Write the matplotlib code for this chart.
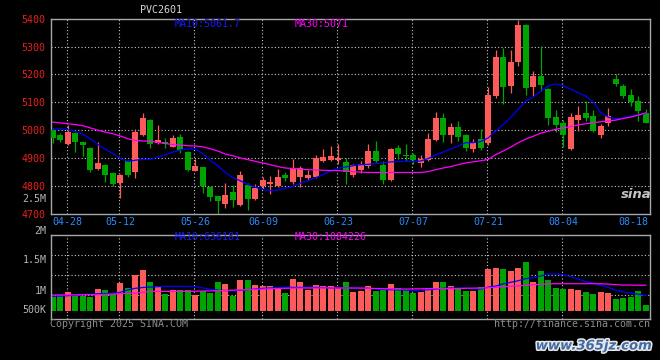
import matplotlib
matplotlib.use('Agg')
import matplotlib.pyplot as plt
import matplotlib.patheffects as pe
import numpy as np

# PVC2601 daily candles, 2025-04-24 .. 2025-08-19
opens = [5002, 4981, 4949, 4990, 4956, 4935, 4860, 4874, 4845, 4810,
         4888, 4848, 4982, 5038, 4954, 4957, 4941, 4974, 4921, 4854,
         4866, 4795, 4762, 4736, 4777, 4731, 4802, 4751, 4800, 4806,
         4798, 4838, 4814, 4833, 4828, 4830, 4889, 4892, 4893, 4886,
         4838, 4856, 4871, 4925, 4874, 4820, 4937, 4910, 4910, 4883,
         4893, 4964, 5044, 4981, 5013, 4981, 4931, 4967, 4955, 5124,
         5264, 5160, 5243, 5377, 5154, 5195, 5149, 5046, 5024, 4931,
         5035, 5060, 5050, 4981, 5024, 5185, 5160, 5127, 5106, 5062]
highs = [5008, 4988, 5020, 4995, 4962, 4940, 4956, 4878, 4848, 4842,
         4892, 5005, 5060, 5041, 5017, 4973, 4981, 4985, 4924, 4898,
         4868, 4797, 4764, 4810, 4802, 4854, 4812, 4806, 4832, 4834,
         4860, 4850, 4895, 4872, 4856, 4912, 4931, 4943, 4950, 4901,
         4880, 4889, 4949, 4961, 4889, 4935, 4945, 4949, 4917, 4910,
         4988, 5066, 5062, 5026, 5032, 4985, 4967, 5003, 5154, 5288,
         5294, 5288, 5395, 5380, 5211, 5302, 5152, 5074, 5038, 5062,
         5086, 5104, 5072, 5023, 5080, 5201, 5167, 5148, 5124, 5076]
lows = [4954, 4957, 4946, 4921, 4907, 4849, 4858, 4814, 4800, 4757,
        4833, 4828, 4978, 4935, 4951, 4937, 4939, 4917, 4853, 4852,
        4776, 4746, 4700, 4719, 4723, 4729, 4715, 4748, 4790, 4770,
        4795, 4818, 4806, 4795, 4822, 4828, 4885, 4888, 4880, 4806,
        4830, 4845, 4865, 4884, 4806, 4818, 4895, 4889, 4878, 4866,
        4890, 4960, 4957, 4955, 4960, 4925, 4923, 4927, 4946, 5116,
        5094, 5133, 5229, 5127, 5122, 5142, 5020, 4995, 4939, 4929,
        4997, 5032, 4993, 4973, 5014, 5157, 5116, 5086, 5032, 5024]
closes = [4971, 4963, 4993, 4958, 4945, 4857, 4881, 4840, 4807, 4838,
          4839, 4993, 5045, 4950, 4963, 4951, 4970, 4929, 4857, 4871,
          4798, 4761, 4747, 4766, 4748, 4838, 4751, 4792, 4820, 4814,
          4833, 4829, 4863, 4864, 4838, 4901, 4905, 4907, 4900, 4848,
          4874, 4877, 4925, 4889, 4822, 4933, 4913, 4906, 4892, 4898,
          4967, 5044, 4981, 5012, 4975, 4935, 4958, 4937, 5125, 5264,
          5154, 5243, 5377, 5150, 5195, 5161, 5042, 5017, 4981, 5046,
          5056, 5044, 4997, 5014, 5052, 5167, 5124, 5100, 5068, 5026]
ma10 = [5002, 5005, 5002, 4996, 4985, 4969, 4949, 4931, 4917, 4898,
        4888, 4892, 4895, 4895, 4903, 4912, 4921, 4929, 4933, 4932,
        4915, 4891, 4872, 4848, 4829, 4818, 4805, 4795, 4787, 4783,
        4785, 4792, 4797, 4810, 4819, 4829, 4840, 4854, 4863, 4868,
        4872, 4876, 4877, 4880, 4882, 4886, 4887, 4888, 4888, 4889,
        4898, 4911, 4921, 4932, 4943, 4955, 4955, 4959, 4972, 4997,
        5020, 5045, 5075, 5104, 5119, 5140, 5158, 5166, 5160, 5147,
        5134, 5122, 5100, 5062, 5046, 5041, 5043, 5050, 5055, 5060]
ma30 = [5029, 5026, 5023, 5020, 5016, 5008, 5000, 4993, 4987, 4979,
        4969, 4963, 4961, 4960, 4956, 4952, 4948, 4946, 4944, 4943,
        4940, 4933, 4925, 4914, 4908, 4900, 4894, 4888, 4882, 4876,
        4869, 4864, 4862, 4860, 4858, 4857, 4856, 4855, 4855, 4853,
        4851, 4849, 4848, 4848, 4848, 4848, 4848, 4848, 4848, 4848,
        4851, 4858, 4864, 4869, 4876, 4882, 4886, 4890, 4895, 4912,
        4925, 4939, 4955, 4968, 4978, 4989, 4996, 5003, 5008, 5013,
        5019, 5023, 5027, 5030, 5033, 5036, 5042, 5047, 5054, 5062]
volume = [475e3, 475e3, 558e3, 458e3, 458e3, 433e3, 633e3, 608e3, 525e3, 783e3,
          675e3, 1000e3, 1125e3, 825e3, 725e3, 525e3, 625e3, 625e3, 617e3, 500e3,
          600e3, 542e3, 825e3, 775e3, 475e3, 875e3, 875e3, 742e3, 708e3, 708e3,
          667e3, 550e3, 892e3, 808e3, 608e3, 750e3, 708e3, 725e3, 667e3, 808e3,
          558e3, 583e3, 725e3, 583e3, 675e3, 775e3, 675e3, 608e3, 533e3, 558e3,
          675e3, 825e3, 825e3, 725e3, 667e3, 600e3, 583e3, 700e3, 1150e3, 1175e3,
          1150e3, 1083e3, 1167e3, 1325e3, 808e3, 1083e3, 875e3, 675e3, 650e3, 650e3,
          625e3, 575e3, 525e3, 558e3, 542e3, 400e3, 425e3, 433e3, 600e3, 250e3]
vol_ma10 = [458e3, 467e3, 475e3, 485e3, 500e3, 510e3, 525e3, 525e3, 525e3, 560e3,
            620e3, 660e3, 680e3, 692e3, 700e3, 708e3, 708e3, 708e3, 708e3, 700e3,
            667e3, 640e3, 610e3, 605e3, 600e3, 610e3, 625e3, 640e3, 660e3, 667e3,
            680e3, 683e3, 683e3, 683e3, 683e3, 683e3, 680e3, 667e3, 667e3, 667e3,
            667e3, 667e3, 660e3, 640e3, 630e3, 625e3, 620e3, 615e3, 608e3, 610e3,
            625e3, 640e3, 660e3, 667e3, 667e3, 667e3, 650e3, 640e3, 690e3, 715e3,
            770e3, 810e3, 850e3, 900e3, 930e3, 965e3, 1020e3, 1020e3, 1000e3, 950e3,
            890e3, 830e3, 790e3, 740e3, 680e3, 610e3, 570e3, 540e3, 510e3, 480e3]
vol_ma30 = [492e3, 492e3, 495e3, 497e3, 498e3, 500e3, 500e3, 505e3, 515e3, 525e3,
            530e3, 540e3, 560e3, 580e3, 583e3, 583e3, 583e3, 583e3, 585e3, 588e3,
            592e3, 595e3, 600e3, 605e3, 615e3, 620e3, 625e3, 630e3, 640e3, 648e3,
            655e3, 660e3, 665e3, 667e3, 667e3, 667e3, 670e3, 670e3, 667e3, 667e3,
            667e3, 665e3, 660e3, 655e3, 650e3, 645e3, 642e3, 642e3, 645e3, 648e3,
            650e3, 650e3, 650e3, 650e3, 655e3, 660e3, 665e3, 667e3, 675e3, 685e3,
            700e3, 710e3, 720e3, 735e3, 750e3, 760e3, 770e3, 775e3, 775e3, 775e3,
            775e3, 775e3, 775e3, 772e3, 765e3, 750e3, 742e3, 740e3, 738e3, 738e3]

date_idx = [2, 9, 19, 28, 38, 48, 58, 68, 78]
date_lbl = ['04-28', '05-12', '05-26', '06-09', '06-23', '07-07', '07-21', '08-04', '08-18']
price_ticks = [4700, 4800, 4900, 5000, 5100, 5200, 5300, 5400]
vol_lbl = ['2M', '1.5M', '1M', '500K']

UP, DOWN = '#ff5a5a', '#00a400'
GRID = '#c8c8c8'
FRAME = '#a8a8a8'
MONO = 'DejaVu Sans Mono'
VOL_BASE = 0.1e6

W, H = 660, 360
def fx(px):
    return px / W
def fy(py):
    return 1 - py / H

fig = plt.figure(figsize=(6.6, 3.6), dpi=100, facecolor='black')

x = np.arange(len(closes))
o, hi, lo, c = (np.array(a, dtype=float) for a in (opens, highs, lows, closes))
col = np.where(c >= o, UP, DOWN)
dotted = (0, (1, 2))

# --- price panel ---
ax = fig.add_axes([fx(50.7), fy(213.7), fx(650) - fx(50.7), fy(18.7) - fy(213.7)])
ax.set_facecolor('black')
for p in price_ticks[1:-1]:
    ax.axhline(p, color=GRID, lw=0.8, ls=dotted, zorder=0)
for i in date_idx[:-1]:
    ax.axvline(i - 0.15, color=GRID, lw=0.8, ls=dotted, zorder=0)
ax.vlines(x, lo, hi, colors=col, lw=0.9, zorder=2)
ax.bar(x, np.abs(c - o), bottom=np.minimum(o, c), width=0.8, color=col, lw=0, zorder=3)
ax.plot(x, ma10, color='#0000ff', lw=0.9, zorder=4)
ax.plot(x, ma30, color='#ff00ff', lw=0.9, zorder=4)
ax.set_xlim(-0.27, 79.55)
ax.set_ylim(4700, 5400)
ax.set_yticks(price_ticks)
ax.set_yticklabels([str(p) for p in price_ticks], fontfamily=MONO)
ax.tick_params(axis='y', length=0, pad=4, labelcolor='#e81e1e', labelsize=7.2)
ax.set_xticks([])
for s in ax.spines.values():
    s.set_color(FRAME)
    s.set_linewidth(1)
xt = ax.get_xaxis_transform()
for k, (i, t) in enumerate(zip(date_idx, date_lbl)):
    shift = -0.6 if k == len(date_idx) - 1 else 0
    ax.text(i + shift, -0.043, t, transform=xt, ha='center', va='center',
            color='#2a8cff', fontsize=7.2, fontfamily=MONO, clip_on=False)

# --- volume panel ---
vax = fig.add_axes([fx(50.7), fy(318.7), fx(650) - fx(50.7), fy(234.7) - fy(318.7)])
vax.set_facecolor('black')
for v in [0.5e6, 1.0e6, 1.5e6]:
    vax.axhline(v, color=GRID, lw=0.8, ls=dotted, zorder=0)
for i in date_idx[:-1]:
    vax.axvline(i - 0.15, color=GRID, lw=0.8, ls=dotted, zorder=0)
vol = np.array(volume)
vax.bar(x, vol - VOL_BASE, bottom=VOL_BASE, width=0.8, color=col, lw=0, zorder=2)
vax.plot(x, vol_ma10, color='#0000ff', lw=0.9, zorder=3)
vax.plot(x, vol_ma30, color='#ff00ff', lw=0.9, zorder=3)
vax.set_xlim(-0.27, 79.55)
vax.set_ylim(-0.1e6, 2.0e6)
vax.set_xticks([])
vax.set_yticks([])
for s in vax.spines.values():
    s.set_color(FRAME)
    s.set_linewidth(1)

# --- texts ---
txt = dict(fontfamily=MONO, fontsize=7.2, va='center')
fig.text(fx(161), fy(10), 'PVC2601', color='#d8d8d8', ha='center', **txt)
fig.text(fx(175), fy(24), 'MA10:5061.7', color='#1a1aff', ha='left', **txt)
fig.text(fx(295), fy(24), 'MA30:5071', color='#ff00ff', ha='left', **txt)
fig.text(fx(175), fy(237.5), 'MA10:636181', color='#1a1aff', ha='left', **txt)
fig.text(fx(295), fy(237.5), 'MA30:1084226', color='#ff00ff', ha='left', **txt)
for t, py in zip(vol_lbl, [231, 260, 291, 310]):
    fig.text(fx(46.5), fy(py), t, color='#b4b4b4', ha='right', **txt)
fig.text(fx(46.5), fy(199.5), '2.5M', color='#b4b4b4', ha='right', **txt)
fig.text(fx(50), fy(324), 'Copyright 2025 SINA.COM', color='#8c8c8c', ha='left', **txt)
fig.text(fx(650), fy(324), 'http://finance.sina.com.cn', color='#8c8c8c', ha='right', **txt)
fig.text(fx(636), fy(194), 'sina', color='#c4c4c4', ha='center', va='center',
         fontsize=9.5, fontweight='bold', fontstyle='italic')
fig.text(fx(594), fy(346), 'www.365jz.com', color='#3f6aa8', ha='center', va='center',
         fontsize=9.5, fontweight='bold', fontstyle='italic',
         path_effects=[pe.withStroke(linewidth=2.2, foreground='#e8e8e8')])

fig.savefig('out.png', dpi=100, facecolor='black')
